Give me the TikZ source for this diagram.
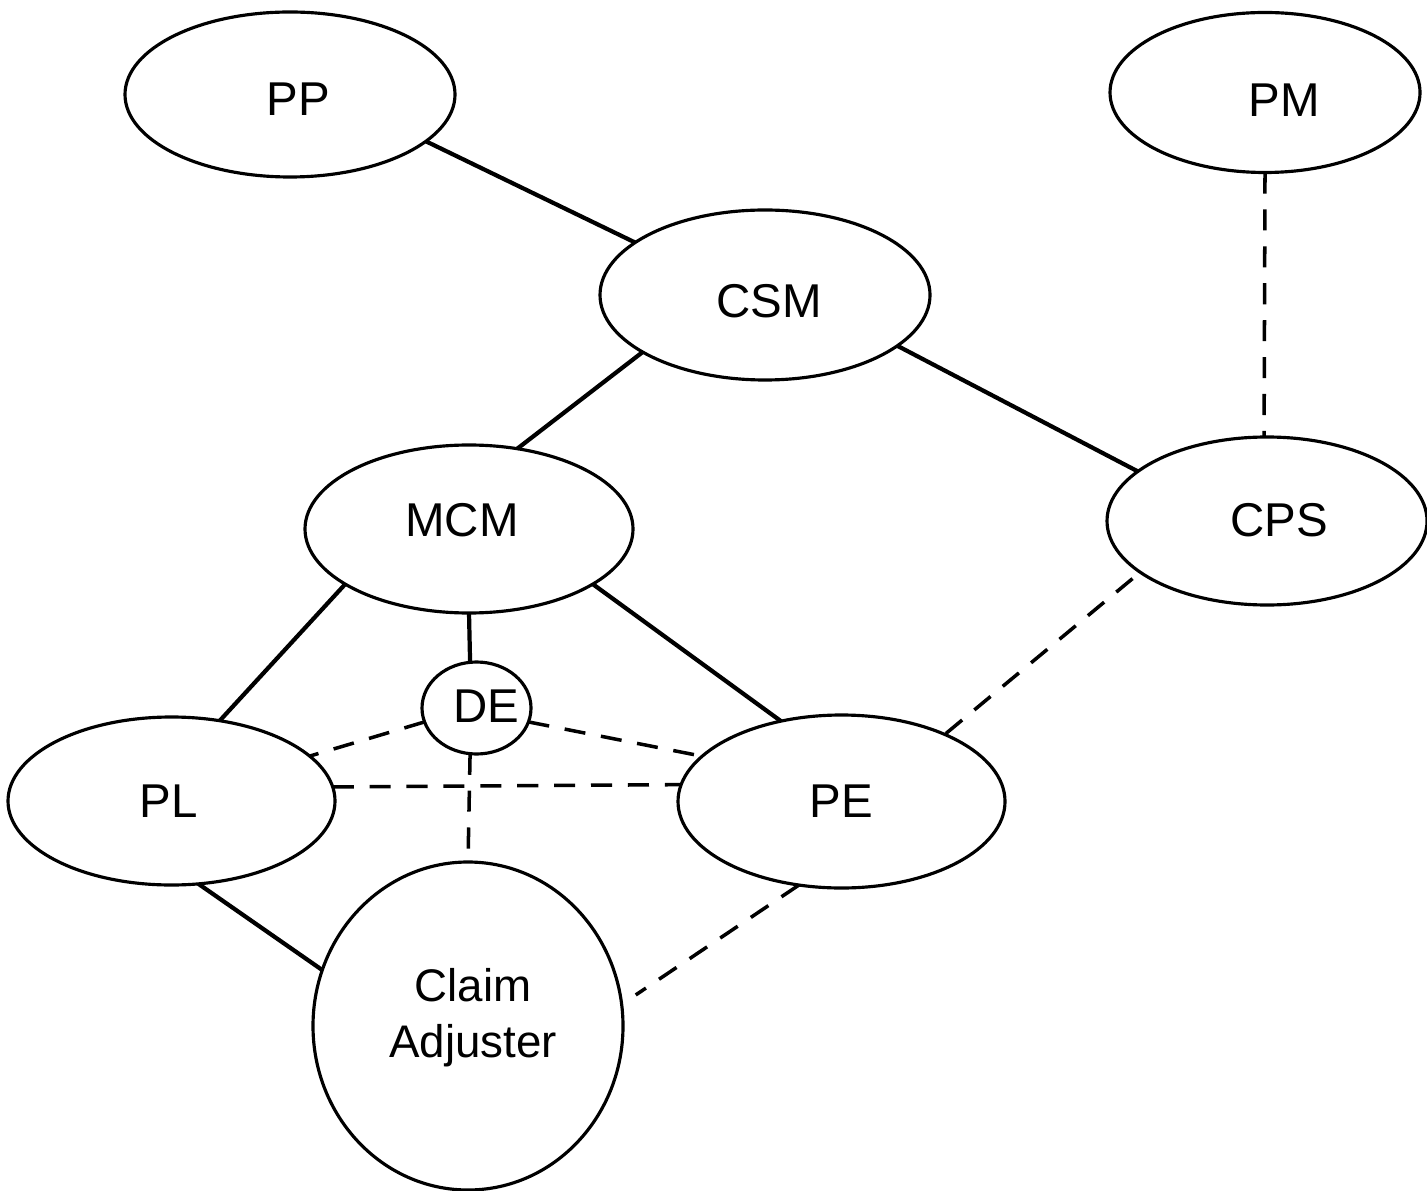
\documentclass[tikz,border=0pt]{standalone}
\usepackage{fontspec}
\setmainfont{Liberation Sans}
\usetikzlibrary{shapes.geometric}

\begin{document}
\begin{tikzpicture}[
  role/.style={ellipse, draw, line width=0.9pt, inner sep=0pt, outer sep=0pt},
  tag/.style={font=\fontsize{13.5}{15.5}\selectfont, inner sep=0pt, align=center},
  link/.style={line width=1.2pt},
  weak/.style={line width=1pt, dash pattern=on 6pt off 4.5pt},
]
\useasboundingbox (0,0) rectangle (14.27,-11.90);

% role nodes
\node[role, minimum width=3.30cm, minimum height=1.65cm,
      label={[tag, xshift=0.08cm, yshift=-0.045cm]center:PP}] (PP) at (2.90,-0.945) {};
\node[role, minimum width=3.10cm, minimum height=1.60cm,
      label={[tag, xshift=0.19cm, yshift=-0.075cm]center:PM}] (PM) at (12.65,-0.925) {};
\node[role, minimum width=3.30cm, minimum height=1.70cm,
      label={[tag, xshift=0.04cm, yshift=-0.06cm]center:CSM}] (CSM) at (7.65,-2.95) {};
\node[role, minimum width=3.28cm, minimum height=1.68cm,
      label={[tag, xshift=-0.07cm, yshift=0.09cm]center:MCM}] (MCM) at (4.69,-5.29) {};
\node[role, minimum width=3.20cm, minimum height=1.68cm,
      label={[tag, xshift=0.12cm, yshift=0.01cm]center:CPS}] (CPS) at (12.67,-5.21) {};
\node[role, minimum width=3.27cm, minimum height=1.68cm,
      label={[tag, xshift=-0.025cm]center:PL}] (PL) at (1.715,-8.01) {};
\node[role, minimum width=3.27cm, minimum height=1.73cm,
      label={[tag]center:PE}] (PE) at (8.415,-8.015) {};
\node[role, minimum width=1.09cm, minimum height=0.92cm,
      label={[tag, xshift=0.095cm, yshift=0.02cm]center:DE}] (DE) at (4.765,-7.08) {};
\node[role, minimum width=3.10cm, minimum height=3.28cm,
      label={[tag, font=\fontsize{13}{15.8}\selectfont, xshift=0.05cm, yshift=0.085cm]center:Claim\\Adjuster}] (CA) at (4.68,-10.26) {};

% solid relations
\draw[link] (PP.-19.8) -- (CSM.158);
\draw[link] (CSM.-155.5) -- (MCM.59);
\draw[link] (CSM.-21.4) -- (CPS.159.4);
\draw[link] (MCM.-156.5) -- (PL.59.5);
\draw[link] (MCM.-90) -- (DE.98);
\draw[link] (MCM.-24) -- (PE.127);
\draw[link] (PL.-72.5) -- (CA.159);

% dashed relations
\draw[weak] (PM.-90) -- (CPS.92);
\draw[weak, shorten <=0.1cm] (CPS.-158.5) -- (PE.33.3);
\draw[weak] (DE.195.5) -- (PL.18);
\draw[weak] (DE.-15) -- (PE.162.5);
\draw[weak] (PL.5.3) -- (PE.174.5);
\draw[weak] (DE.-98) -- (CA.90);
\draw[weak, shorten >=0.17cm] (PE.-117) -- (CA.8);
\end{tikzpicture}
\end{document}
